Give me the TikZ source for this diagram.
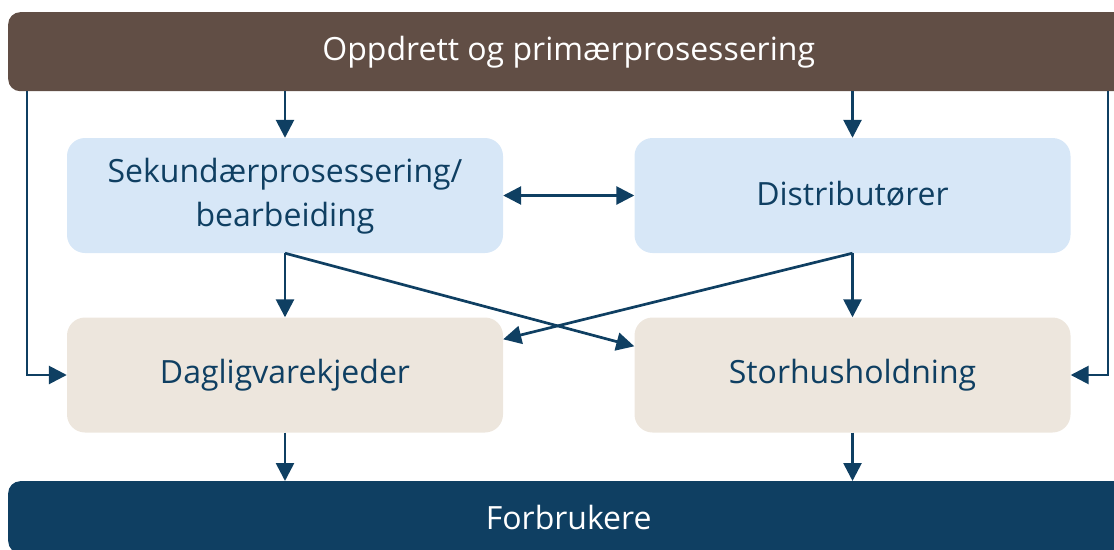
\documentclass[tikz,border=0pt]{standalone}
\usepackage{fontspec}
\setmainfont{Open Sans}
\usetikzlibrary{arrows.meta}
\definecolor{brownbar}{HTML}{614E45}
\definecolor{navy}{HTML}{0F3F62}
\definecolor{lblue}{HTML}{D7E7F7}
\definecolor{beige}{HTML}{EDE6DD}
\begin{document}
\begin{tikzpicture}[x=1pt,y=-1pt,
  bar/.style={rounded corners=12pt, text=white, inner sep=0pt, font=\fontsize{32}{38}\selectfont},
  box/.style={rounded corners=18pt, text=navy, font=\fontsize{32}{43}\selectfont,
    minimum width=436pt, minimum height=115pt, align=center, inner sep=0pt},
  boxtext/.style={yshift=4pt},
  arr/.style={draw=navy, line width=2.7pt, -{Triangle[length=18pt,width=18pt]}},
  dblarr/.style={draw=navy, line width=2.7pt, {Triangle[length=18pt,width=18pt]}-{Triangle[length=18pt,width=18pt]}},
]
\useasboundingbox (0,0) rectangle (1114,549);
\clip (0,0) rectangle (1114,549);
\node[bar, fill=brownbar, anchor=north west, minimum width=1121pt, minimum height=79pt] (top) at (8,12) {Oppdrett og primærprosessering};
\node[bar, fill=navy, anchor=north west, minimum width=1121pt, minimum height=72pt] (bot) at (8,481) {Forbrukere};
\node[box, fill=lblue] (sek) at (285,195.5) {\raisebox{4pt}{\begin{tabular}{@{}c@{}}Sekundærprosessering/\\[1pt]bearbeiding\end{tabular}}};
\node[box, fill=lblue] (dist) at (852.5,195.5) {\raisebox{4pt}{Distributører}};
\node[box, fill=beige] (dag) at (285,375) {\raisebox{3pt}{Dagligvarekjeder}};
\node[box, fill=beige] (stor) at (852.5,375) {\raisebox{3pt}{Storhusholdning}};
\coordinate (lx) at (27,0);
\coordinate (rx) at (1108,0);
\draw[arr] (top.south -| sek.north) -- (sek.north);
\draw[arr] (top.south -| dist.north) -- (dist.north);
\draw[arr] (top.south -| lx) |- (dag.west);
\draw[arr] (top.south -| rx) |- (stor.east);
\draw[dblarr] (sek.east) -- (dist.west);
\draw[arr] (sek.south) -- (dag.north);
\draw[arr] (dist.south) -- (stor.north);
\draw[arr] (sek.south) -- ([yshift=-29pt]stor.north west);
\draw[arr] (dist.south) -- ([yshift=-22pt]dag.north east);
\draw[arr] (dag.south) -- (dag.south |- bot.north);
\draw[arr] (stor.south) -- (stor.south |- bot.north);
\end{tikzpicture}
\end{document}
